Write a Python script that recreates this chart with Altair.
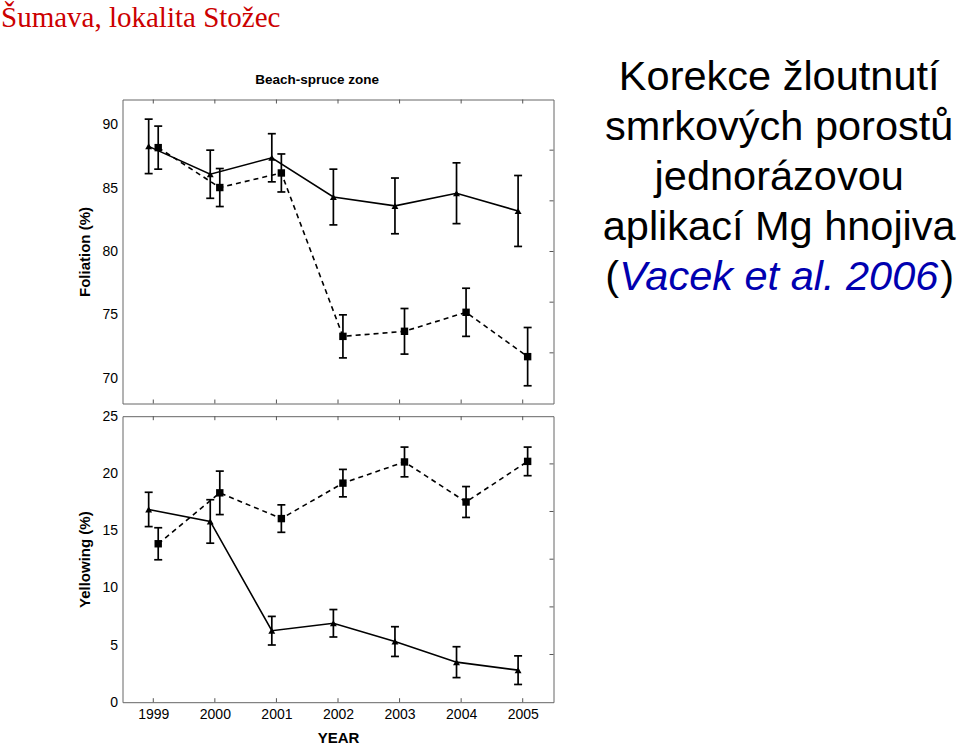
import altair as alt
import pandas as pd

years = [1999, 2000, 2001, 2002, 2003, 2004, 2005]

# Foliation (%) - triangles (solid) and squares (dashed)
fol_tri = [88.3, 86.1, 87.4, 84.3, 83.6, 84.6, 83.2]
fol_tri_err = [2.15, 1.9, 1.9, 2.2, 2.2, 2.4, 2.8]
fol_sq = [88.2, 85.05, 86.2, 73.3, 73.7, 75.2, 71.7]
fol_sq_err = [1.7, 1.5, 1.5, 1.7, 1.8, 1.9, 2.3]

# Yellowing (%)
yel_tri = [16.85, 15.8, 6.25, 6.9, 5.3, 3.5, 2.8]
yel_tri_err = [1.5, 1.9, 1.25, 1.2, 1.3, 1.35, 1.25]
yel_sq = [13.85, 18.3, 16.05, 19.15, 21.0, 17.5, 21.05]
yel_sq_err = [1.4, 1.9, 1.2, 1.2, 1.3, 1.35, 1.25]

fol_ticks = [70, 75, 80, 85, 90]
yel_ticks = [0, 5, 10, 15, 20, 25]
fol_right_ticks = [72, 76, 80, 84, 88]
yel_right_ticks = [4.17, 8.33, 12.5, 16.67, 20.83]

header_text = "Šumava, lokalita Stožec"
panel_title = "Beach-spruce zone"
side_title = "Korekce žloutnutí\nsmrkových porostů\njednorázovou\naplikací Mg hnojiva"
citation = "Vacek et al. 2006"

W = 431
H_TOP = 304
H_BOT = 286
OFF_TRI = -0.075
OFF_SQ = 0.08
FONT = "Liberation Sans"


def make_df(tri, tri_err, sq, sq_err):
    rows = []
    for i, yr in enumerate(years):
        rows.append(dict(series="tri", x=yr + OFF_TRI, v=tri[i],
                         lo=tri[i] - tri_err[i], hi=tri[i] + tri_err[i]))
        rows.append(dict(series="sq", x=yr + OFF_SQ, v=sq[i],
                         lo=sq[i] - sq_err[i], hi=sq[i] + sq_err[i]))
    return pd.DataFrame(rows)


xscale = alt.Scale(domain=[1998.5, 2005.5], nice=False, zero=False)


def panel(df, ydom, yvals, rvals, ytitle, h, bottom_axis, extra):
    yscale = alt.Scale(domain=ydom, nice=False, zero=False)
    yaxis = alt.Axis(values=yvals, title=ytitle, ticks=False, domain=False,
                     grid=False, labelPadding=5, titlePadding=9,
                     labelFontSize=14, titleFontSize=15,
                     titleFontWeight="bold", labelFont=FONT, titleFont=FONT)
    if bottom_axis:
        xaxis = alt.Axis(values=years, format="d", title="YEAR", ticks=False,
                         domain=False, grid=False, labelPadding=5,
                         titlePadding=9, labelFontSize=14,
                         titleFontSize=15, titleFontWeight="bold",
                         labelFont=FONT, titleFont=FONT)
    else:
        xaxis = None

    def X(f):
        return alt.X(f, type="quantitative", scale=xscale, axis=xaxis)

    def Y(f):
        return alt.Y(f, type="quantitative", scale=yscale, axis=yaxis)

    base = alt.Chart(df)
    layers = []
    for key, dash, shape, size in [("tri", None, "triangle-up", 48),
                                   ("sq", [5, 4], "square", 55)]:
        sub = base.transform_filter(alt.datum.series == key)
        if dash:
            ln = sub.mark_line(color="black", strokeWidth=1.6, strokeDash=dash)
        else:
            ln = sub.mark_line(color="black", strokeWidth=1.6)
        layers.append(ln.encode(x=X("x"), y=Y("v")))
        layers.append(sub.mark_rule(color="black", strokeWidth=1.7).encode(
            x=X("x"), y=Y("lo"), y2="hi"))
        for f in ["lo", "hi"]:
            layers.append(sub.mark_tick(orient="horizontal", size=8,
                                        thickness=1.7, color="black",
                                        opacity=1).encode(x=X("x"), y=Y(f)))
        layers.append(sub.mark_point(shape=shape, filled=True, size=size,
                                     color="black", opacity=1).encode(
            x=X("x"), y=Y("v")))

    ydf = pd.DataFrame({"year": years})
    layers.append(alt.Chart(ydf).mark_rule(color="#555", strokeWidth=1).encode(
        x=X("year"), y=alt.value(0), y2=alt.value(4)))
    layers.append(alt.Chart(ydf).mark_rule(color="#555", strokeWidth=1).encode(
        x=X("year"), y=alt.value(h), y2=alt.value(h - 4)))
    rdf = pd.DataFrame({"r": rvals})
    layers.append(alt.Chart(rdf).mark_rule(color="#555", strokeWidth=1).encode(
        y=Y("r"), x=alt.value(W - 4), x2=alt.value(W)))
    layers.extend(extra)
    return alt.layer(*layers).properties(width=W, height=h)


def text_layer(txt, x, y, **kw):
    return alt.Chart(pd.DataFrame({"t": [txt]})).mark_text(**kw).encode(
        text="t:N", x=alt.value(x), y=alt.value(y))


extra = [
    text_layer(header_text, -121.5, -72.6, font="Liberation Serif",
               fontSize=29, color="#cc0000", align="left",
               baseline="alphabetic"),
    text_layer(panel_title, 194.7, -15.3, font=FONT, fontSize=13.5,
               fontWeight="bold", color="black", align="center",
               baseline="alphabetic"),
    text_layer(side_title, 656.7, -9.3, font=FONT, fontSize=41.5,
               color="black", align="center", baseline="alphabetic",
               lineBreak="\n", lineHeight=50),
    text_layer("(", 496.7, 190.7, font=FONT, fontSize=41.5, color="black",
               align="right", baseline="alphabetic"),
    text_layer(citation, 496.7, 190.7, font=FONT, fontSize=41.5,
               fontStyle="italic", color="#0000b0", align="left",
               baseline="alphabetic"),
    text_layer(")", 817.7, 190.7, font=FONT, fontSize=41.5, color="black",
               align="left", baseline="alphabetic"),
]

top = panel(make_df(fol_tri, fol_tri_err, fol_sq, fol_sq_err), [68, 92],
            fol_ticks, fol_right_ticks, "Foliation (%)", H_TOP, False, extra)
bottom = panel(make_df(yel_tri, yel_tri_err, yel_sq, yel_sq_err), [0, 25],
               yel_ticks, yel_right_ticks, "Yellowing (%)", H_BOT, True, [])

chart = alt.vconcat(top, bottom, spacing=12.7, bounds="flush").properties(
    padding={"left": 0.5, "top": 2.5, "right": 2, "bottom": 2},
    background="white",
).configure_view(stroke="#666", strokeWidth=1).configure_axis(
    labelColor="black", titleColor="black")

chart.save("out.html", embed_options={"renderer": "svg", "actions": False})
